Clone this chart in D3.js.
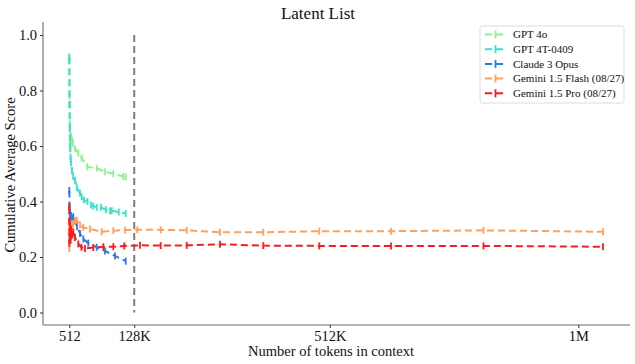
<!DOCTYPE html>
<html><head><meta charset="utf-8">
<script src="https://cdn.jsdelivr.net/npm/d3@7"></script>
<style>body{margin:0;background:#fff}svg{display:block}text{font-family:"Liberation Serif","DejaVu Serif",serif;fill:#111}</style>
</head><body><svg id="c" width="635" height="364"></svg>
<script>
const seriesNames = ["GPT 4o","GPT 4T-0409","Claude 3 Opus","Gemini 1.5 Flash (08/27)","Gemini 1.5 Pro (08/27)"];
const seriesColors = ["#8ef08e","#40e0c8","#3277e6","#ffa05c","#ff1a1a"];
const gpt4oTokens = [512,1024,1536,2048,3072,4096,6144,8192,12288,18600,25400,36700,55600,72300,89000,109000,114000];
const gpt4oScores = [0.92,0.78,0.68,0.62,0.60,0.635,0.62,0.61,0.59,0.575,0.557,0.525,0.52,0.507,0.50,0.49,0.488];
const gpt4tTokens = [512,1024,1536,2048,3072,4096,6144,8192,12000,16000,22000,25400,30000,37000,44100,48800,55600,64300,74000,82400,85800,100000,114000];
const gpt4tScores = [0.92,0.75,0.66,0.60,0.56,0.54,0.51,0.49,0.477,0.45,0.43,0.417,0.405,0.40,0.387,0.384,0.379,0.379,0.37,0.366,0.367,0.362,0.357];
const claudeTokens = [512,1024,1536,2048,3072,4096,6144,8555,12000,16000,22000,28700,38700,55600,72300,92400,114000];
const claudeScores = [0.44,0.38,0.35,0.36,0.34,0.35,0.34,0.345,0.33,0.31,0.285,0.265,0.25,0.235,0.222,0.204,0.185];
const flashTokens = [512,768,1024,1536,2048,3072,4096,6144,8192,12000,15400,22000,28700,42100,65700,89000,113000,137200,184300,236600,303500,390600,503200,647400,833400,1073700];
const flashScores = [0.23,0.33,0.26,0.31,0.28,0.32,0.29,0.31,0.32,0.33,0.333,0.315,0.307,0.301,0.291,0.295,0.297,0.298,0.298,0.296,0.289,0.289,0.293,0.293,0.296,0.291];
const proTokens = [512,768,1024,1536,2048,3072,4096,6144,8555,12000,18600,25000,32100,48800,68900,89000,111000,142700,184300,236600,303500,390600,503200,647400,833400,1073700];
const proScores = [0.38,0.25,0.33,0.27,0.31,0.26,0.30,0.28,0.29,0.27,0.247,0.235,0.231,0.234,0.237,0.237,0.240,0.242,0.241,0.242,0.246,0.241,0.240,0.240,0.240,0.237];
const xTickValues = [512,131072,524288,1024000];
const xTickLabels = ["512","128K","512K","1M"];
const yTickValues = [0,0.2,0.4,0.6,0.8,1.0];
const cutoffTokens = 131072;

const seriesTokens = [gpt4oTokens,gpt4tTokens,claudeTokens,flashTokens,proTokens];
const seriesScores = [gpt4oScores,gpt4tScores,claudeScores,flashScores,proScores];

const svg = d3.select("#c");
const x = d3.scaleLinear().domain([512,1024000]).range([69.3,578.3]);
const y = d3.scaleLinear().domain([0,1]).range([312.5,35]);
const pLeft = 43, pRight = 630, pTop = 22, pBottom = 325;

svg.append("line").attr("x1",pLeft).attr("x2",pLeft).attr("y1",pTop).attr("y2",pBottom).attr("stroke","#9a9a9a").attr("stroke-width",1.6);
svg.append("line").attr("x1",pLeft).attr("x2",pRight).attr("y1",pBottom).attr("y2",pBottom).attr("stroke","#9a9a9a").attr("stroke-width",1.6);

const yAxis = svg.append("g").attr("transform",`translate(${pLeft},0)`)
  .call(d3.axisLeft(y).tickValues(yTickValues).tickFormat(d3.format(".1f")).tickSize(3).tickPadding(3));
yAxis.select(".domain").remove();
yAxis.selectAll("text").style("font-size","14.5px").style("font-family","Liberation Serif");
yAxis.selectAll("line").attr("stroke","#333");

const xAxis = svg.append("g").attr("transform",`translate(0,${pBottom})`)
  .call(d3.axisBottom(x).tickValues(xTickValues).tickFormat((d,i)=>xTickLabels[i]).tickSize(3).tickPadding(3));
xAxis.select(".domain").remove();
xAxis.selectAll("text").style("font-size","14.5px").style("font-family","Liberation Serif");
xAxis.selectAll("line").attr("stroke","#333");

svg.append("line").attr("x1",x(cutoffTokens)).attr("x2",x(cutoffTokens)).attr("y1",y(1.0)).attr("y2",y(0))
  .attr("stroke","#7f7f7f").attr("stroke-width",2).attr("stroke-dasharray","7,4");

const line = d3.line().x(d=>x(d[0])).y(d=>y(d[1]));
seriesNames.forEach((name,i)=>{
  const data = seriesTokens[i].map((t,j)=>[t,seriesScores[i][j]]);
  const g = svg.append("g");
  g.append("path").datum(data).attr("d",line).attr("fill","none")
    .attr("stroke",seriesColors[i]).attr("stroke-width",2).attr("stroke-dasharray","7,4");
  g.selectAll("line.eb").data(data).enter().append("line")
    .attr("x1",d=>x(d[0])).attr("x2",d=>x(d[0]))
    .attr("y1",d=>y(d[1])-3.5).attr("y2",d=>y(d[1])+3.5)
    .attr("stroke",seriesColors[i]).attr("stroke-width",1.8);
});

const lg = svg.append("g");
lg.append("rect").attr("x",480).attr("y",26).attr("width",144).attr("height",77)
  .attr("fill","#fff").attr("stroke","#dcdcdc").attr("rx",2);
seriesNames.forEach((name,i)=>{
  const yy = 34.5 + i*14.7;
  lg.append("line").attr("x1",485).attr("x2",506).attr("y1",yy).attr("y2",yy)
    .attr("stroke",seriesColors[i]).attr("stroke-width",2).attr("stroke-dasharray","7,4");
  lg.append("line").attr("x1",495.5).attr("x2",495.5).attr("y1",yy-4).attr("y2",yy+4)
    .attr("stroke",seriesColors[i]).attr("stroke-width",1.8);
  lg.append("text").attr("x",513).attr("y",yy+3.8).style("font-size","11px").text(name);
});

svg.append("text").attr("x",318).attr("y",19).attr("text-anchor","middle").style("font-size","17px").text("Latent List");
svg.append("text").attr("x",331).attr("y",356).attr("text-anchor","middle").style("font-size","14.5px").text("Number of tokens in context");
svg.append("text").attr("transform","translate(15,175) rotate(-90)").attr("text-anchor","middle").style("font-size","14.5px").text("Cumulative Average Score");
</script></body></html>
